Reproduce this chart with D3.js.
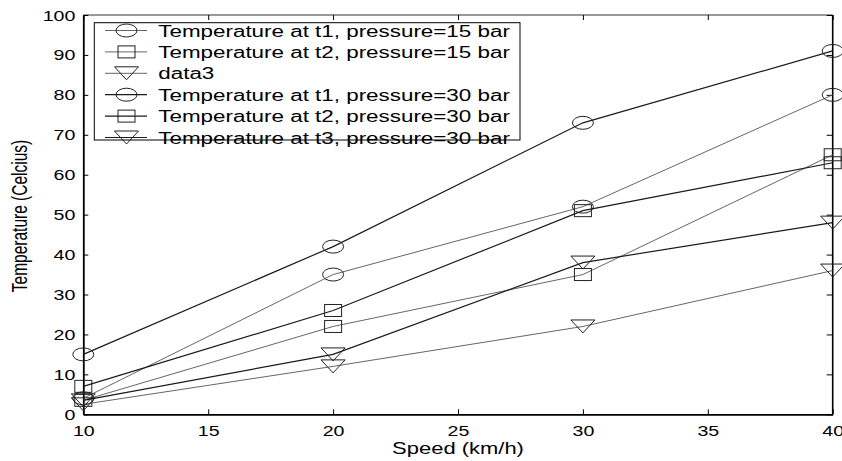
<!DOCTYPE html>
<html><head><meta charset="utf-8">
<script src="https://cdn.jsdelivr.net/npm/d3@7"></script>
<style>body{margin:0;background:#fff;} svg{display:block;font-family:"Liberation Sans",Arial,sans-serif;}</style>
</head><body>
<svg id="c" width="842" height="461"></svg>
<script>
const speeds = [10, 20, 30, 40];
const t1p15 = [4, 35, 52, 80];
const t2p15 = [3.5, 22, 35, 65];
const data3 = [2.5, 12, 22, 36];
const t1p30 = [15, 42, 73, 91];
const t2p30 = [7, 26, 51, 63];
const t3p30 = [3.5, 15, 38, 48];
const seriesNames = ["Temperature at t1, pressure=15 bar","Temperature at t2, pressure=15 bar","data3",
  "Temperature at t1, pressure=30 bar","Temperature at t2, pressure=30 bar","Temperature at t3, pressure=30 bar"];
const seriesVals = [t1p15, t2p15, data3, t1p30, t2p30, t3p30];
const seriesMarker = ["circle","square","triangle","circle","square","triangle"];
const xTicks = [10,15,20,25,30,35,40];
const yTicks = [0,10,20,30,40,50,60,70,80,90,100];

const SX = 1.4;
const svg = d3.select("#c");
const L = 83.3, R = 832.7, T = 15, B = 414.3;
const x = d3.scaleLinear().domain([10,40]).range([L,R]);
const y = d3.scaleLinear().domain([0,100]).range([B,T]);

function stext(g, px, py, str, size, anchor, rot) {
  return g.append("text")
    .attr("transform", `translate(${px},${py}) scale(${SX},1)` + (rot ? ` rotate(${rot})` : ""))
    .attr("text-anchor", anchor).attr("font-size", size).attr("fill", "#000").text(str);
}

// frame
svg.append("line").attr("x1",L).attr("x2",R).attr("y1",T).attr("y2",T).attr("stroke","#333").attr("stroke-width",1);
svg.append("line").attr("x1",R).attr("x2",R).attr("y1",T).attr("y2",B).attr("stroke","#000").attr("stroke-width",1.6);

// axes
const xa = svg.append("g").attr("transform",`translate(0,${B})`)
  .call(d3.axisBottom(x).tickValues(xTicks).tickSizeInner(-5).tickSizeOuter(0).tickPadding(0));
xa.select(".domain").attr("stroke","#000").attr("stroke-width",1.8);
xa.selectAll(".tick line").attr("stroke","#000");
xa.selectAll(".tick text").remove();
xa.selectAll(".tick").each(function(d){ stext(d3.select(this), 0, 21.5, d, 14, "middle"); });

const xTop = svg.append("g").attr("transform",`translate(0,${T})`)
  .call(d3.axisTop(x).tickValues(xTicks).tickSizeInner(-5).tickSizeOuter(0).tickFormat(""));
xTop.select(".domain").remove();
xTop.selectAll(".tick line").attr("stroke","#000");

const ya = svg.append("g").attr("transform",`translate(${L},0)`)
  .call(d3.axisLeft(y).tickValues(yTicks).tickSizeInner(-5).tickSizeOuter(0).tickPadding(0));
ya.select(".domain").attr("stroke","#000").attr("stroke-width",1.8);
ya.selectAll(".tick line").attr("stroke","#000");
ya.selectAll(".tick text").remove();
ya.selectAll(".tick").each(function(d){ stext(d3.select(this), -8, 5, d, 14, "end"); });

const yR = svg.append("g").attr("transform",`translate(${R},0)`)
  .call(d3.axisRight(y).tickValues(yTicks).tickSizeInner(-6).tickSizeOuter(0).tickFormat(""));
yR.select(".domain").remove();
yR.selectAll(".tick line").attr("stroke","#000");

// axis labels
stext(svg, (L+R)/2, 454, "Speed (km/h)", 15.7, "middle");
stext(svg, 26.5, 216, "Temperature (Celcius)", 15.5, "middle", -90);

function drawMarker(g, type, cx, cy, col) {
  if (type === "circle") {
    g.append("ellipse").attr("cx",cx).attr("cy",cy).attr("rx",10.5).attr("ry",6.5)
      .attr("fill","none").attr("stroke",col).attr("stroke-width",1);
  } else if (type === "square") {
    g.append("rect").attr("x",cx-8.5).attr("y",cy-6).attr("width",17).attr("height",12)
      .attr("fill","none").attr("stroke",col).attr("stroke-width",1);
  } else {
    g.append("path").attr("d",`M${cx-12},${cy-6.5}L${cx+12},${cy-6.5}L${cx},${cy+6.5}Z`)
      .attr("fill","none").attr("stroke",col).attr("stroke-width",1);
  }
}

const line = d3.line().x((d,i)=>x(speeds[i])).y(d=>y(d));
const lineCol = (i) => i < 3 ? "#555" : "#1a1a1a";
const lineW = (i) => i < 3 ? 0.9 : 1.2;
const plot = svg.append("g");
seriesVals.forEach((vals, si) => {
  plot.append("path").attr("d", line(vals)).attr("fill","none")
    .attr("stroke", lineCol(si)).attr("stroke-width", lineW(si));
  vals.forEach((v, i) => drawMarker(plot, seriesMarker[si], x(speeds[i]), y(v), "#222"));
});

// legend
const lg = svg.append("g");
lg.append("rect").attr("x",94.3).attr("y",22.7).attr("width",425.7).attr("height",117.3)
  .attr("fill","#fff").attr("stroke","#000").attr("stroke-width",1);
seriesNames.forEach((name, i) => {
  const by = 36.5 + i*21.4;
  const my = by - 6;
  lg.append("line").attr("x1",105).attr("x2",147).attr("y1",my).attr("y2",my)
    .attr("stroke", lineCol(i)).attr("stroke-width", lineW(i));
  drawMarker(lg, seriesMarker[i], 126.5, my, "#222");
  stext(lg, 158.3, by, name, 16, "start");
});
</script>
</body></html>
